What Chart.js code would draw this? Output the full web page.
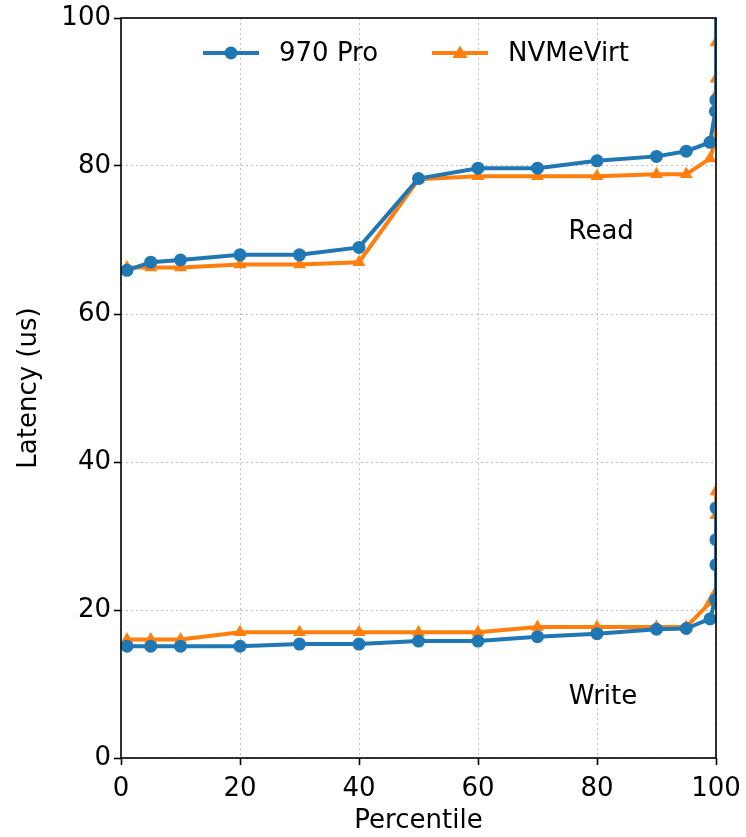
<!DOCTYPE html>
<html>
<head>
<meta charset="utf-8">
<script src="https://cdn.jsdelivr.net/npm/chart.js@4/dist/chart.umd.min.js"></script>
<style>
  html, body { margin: 0; padding: 0; background: #fff; }
  #wrap { width: 746px; height: 837px; }
</style>
</head>
<body>
<div id="wrap"><canvas id="lat"></canvas></div>
<script>
// percentiles on the x axis
const percentiles = [1, 5, 10, 20, 30, 40, 50, 60, 70, 80, 90, 95, 99, 99.9, 99.99, 99.999, 99.9999];

// read latency (us)
const read970 = [65.9, 67.0, 67.3, 68.0, 68.0, 69.0, 78.3, 79.7, 79.7, 80.7, 81.3, 82.0, 83.2, 87.4, 88.9, 101, 104];
const readNvme = [66.3, 66.3, 66.3, 66.7, 66.7, 67.0, 78.2, 78.6, 78.6, 78.6, 78.9, 78.9, 81.0, 83.5, 89.6, 91.8, 96.7];

// write latency (us)
const write970 = [15.1, 15.1, 15.1, 15.1, 15.4, 15.4, 15.8, 15.8, 16.4, 16.8, 17.4, 17.5, 18.8, 21.4, 26.1, 29.5, 33.8];
const writeNvme = [16.0, 16.0, 16.0, 17.0, 17.0, 17.0, 17.0, 17.0, 17.7, 17.7, 17.7, 17.7, 21.0, 22.3, 29.5, 32.8, 36.0];

const xTicks = [0, 20, 40, 60, 80, 100];
const yTicks = [0, 20, 40, 60, 80, 100];

const labels = [
  { text: 'Read', x: 80.7, y: 71 },
  { text: 'Write', x: 81, y: 8.2 }
];

const legendItems = [
  { text: '970 Pro', color: '#1f77b4', style: 'circle' },
  { text: 'NVMeVirt', color: '#ff7f0e', style: 'triangle' }
];

const FONT = '"DejaVu Sans", sans-serif';
const FS = 26;
Chart.defaults.font.family = FONT;
Chart.defaults.color = '#000';

function pts(ys) {
  return percentiles.map((p, i) => ({ x: p, y: ys[i] }));
}

function series(label, ys, color, style) {
  return {
    label: label,
    data: pts(ys),
    borderColor: color,
    backgroundColor: color,
    borderWidth: 4,
    pointStyle: style,
    pointRadius: style === 'triangle' ? 7.5 : 6.5,
    pointBorderWidth: 0,
    pointHoverRadius: 6.5,
    tension: 0,
    clip: 0
  };
}

// matplotlib-style frame, text labels and legend
const decor = {
  id: 'decor',
  afterDatasetsDraw(chart) {
    const { ctx, chartArea: a, scales } = chart;
    ctx.save();
    ctx.strokeStyle = '#000';
    ctx.lineWidth = 1.6;
    ctx.strokeRect(a.left, a.top, a.right - a.left, a.bottom - a.top);

    ctx.fillStyle = '#000';
    ctx.font = FS + 'px ' + FONT;
    ctx.textAlign = 'center';
    ctx.textBaseline = 'middle';
    labels.forEach(l => {
      ctx.fillText(l.text, scales.x.getPixelForValue(l.x), scales.y.getPixelForValue(l.y));
    });

    // legend
    const ly = a.top + 35;
    let lx = a.left + 82;
    ctx.textAlign = 'left';
    legendItems.forEach(item => {
      ctx.strokeStyle = item.color;
      ctx.fillStyle = item.color;
      ctx.lineWidth = 4;
      ctx.beginPath();
      ctx.moveTo(lx, ly);
      ctx.lineTo(lx + 56, ly);
      ctx.stroke();
      const cx = lx + 28;
      ctx.beginPath();
      if (item.style === 'circle') {
        ctx.arc(cx, ly, 6.5, 0, Math.PI * 2);
      } else {
        ctx.moveTo(cx, ly - 7.5);
        ctx.lineTo(cx + 7.5, ly + 5);
        ctx.lineTo(cx - 7.5, ly + 5);
        ctx.closePath();
      }
      ctx.fill();
      ctx.fillStyle = '#000';
      ctx.fillText(item.text, lx + 76, ly + 1);
      lx += 229;
    });
    ctx.restore();
  }
};

const gridOpts = {
  color: '#b0b0b0',
  lineWidth: 0.8,
  tickColor: '#000',
  tickLength: 7,
  tickWidth: 1.6,
  tickBorderDash: []
};

new Chart(document.getElementById('lat'), {
  type: 'line',
  data: {
    datasets: [
      series('970 Pro', read970, '#1f77b4', 'circle'),
      series('NVMeVirt', readNvme, '#ff7f0e', 'triangle'),
      series('970 Pro write', write970, '#1f77b4', 'circle'),
      series('NVMeVirt write', writeNvme, '#ff7f0e', 'triangle')
    ]
  },
  options: {
    responsive: true,
    maintainAspectRatio: false,
    animation: false,
    layout: { padding: { top: 18, right: 30, left: 0, bottom: 0 } },
    plugins: {
      legend: { display: false },
      tooltip: { enabled: false }
    },
    scales: {
      x: {
        type: 'linear',
        min: 0,
        max: 100,
        afterBuildTicks: s => { s.ticks = xTicks.map(v => ({ value: v })); },
        afterFit: s => { s.height = 79; s.paddingLeft = 0; s.paddingRight = 0; },
        ticks: { font: { size: FS }, padding: 9, maxRotation: 0 },
        grid: gridOpts,
        border: { display: false, dash: [2, 3] },
        title: { display: true, text: 'Percentile', font: { size: FS }, padding: { top: -6, bottom: 0 } }
      },
      y: {
        min: 0,
        max: 100,
        afterBuildTicks: s => { s.ticks = yTicks.map(v => ({ value: v })); },
        afterFit: s => { s.width = 121; s.paddingTop = 0; s.paddingBottom = 0; },
        ticks: { font: { size: FS }, padding: 3 },
        grid: gridOpts,
        border: { display: false, dash: [2, 3] },
        title: { display: true, text: 'Latency (us)', font: { size: FS }, padding: { top: 14, bottom: 0 } }
      }
    }
  },
  plugins: [decor]
});
</script>
</body>
</html>
